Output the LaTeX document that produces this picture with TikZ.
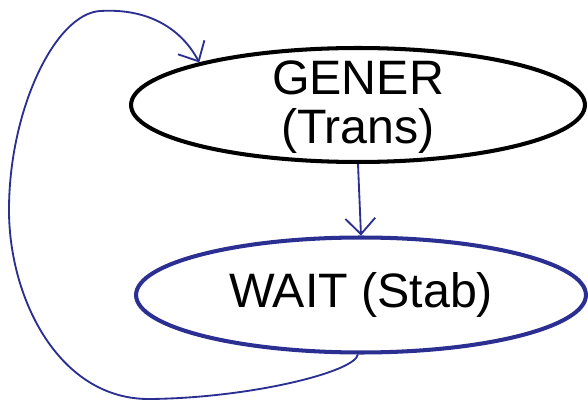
\documentclass[tikz,border=0pt]{standalone}
\usepackage{fontspec}
\setmainfont{Liberation Sans}
\usetikzlibrary{shapes.geometric,arrows.meta}
\definecolor{navy}{RGB}{43,47,145}
\tikzset{
  label/.style={font=\fontsize{27.5}{33}\selectfont, inner sep=0pt},
  state/.style={ellipse, inner sep=0pt, line width=2.3pt, label},
  link/.style={navy, line width=1.05pt, -{Straight Barb[length=9pt,width=17pt,line width=1.05pt]}}
}
\begin{document}
\begin{tikzpicture}[x=0.02cm, y=-0.02cm]
  \useasboundingbox (0,0) rectangle (588,405);
  % states
  \node[state, draw=black, minimum width=9.08cm, minimum height=2.28cm] (gener) at (358,105) {};
  \node[label] (gtxt1) at (358,78) {GENER};
  \node[label] (gtxt2) at (358,131) {(Trans)};
  \node[state, draw=navy, minimum width=9.0cm, minimum height=2.3cm] (wait) at (361,295) {WAIT (Stab)};
  % transitions
  \draw[link] (gener.south) -- (wait.north);
  \draw[link] (wait.-93) .. controls (355,372) and (250,398) .. (150,399)
     .. controls (60,400) and (9,300) .. (9,210)
     .. controls (9,110) and (55,14) .. (100,11)
     .. controls (150,8) and (182,30) .. (gener.165);
\end{tikzpicture}
\end{document}
